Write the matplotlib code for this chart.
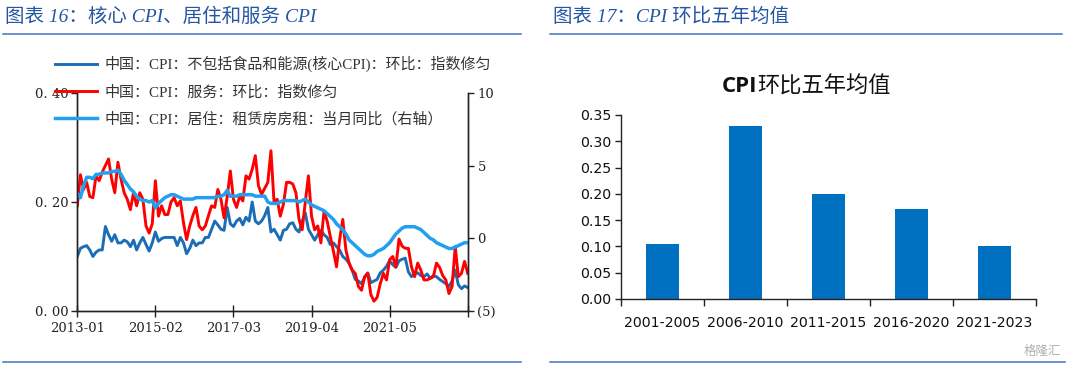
import matplotlib
matplotlib.use('Agg')
import matplotlib.pyplot as plt
import numpy as np
from matplotlib.lines import Line2D

plt.rcParams['font.family'] = ['Noto Sans CJK SC', 'DejaVu Sans']
plt.rcParams['axes.unicode_minus'] = False

# ---------------- data ----------------
# monthly, 2013-01 .. 2023-06
core_cpi_mom = [
    0.100, 0.115, 0.118, 0.120, 0.112, 0.100, 0.108, 0.112, 0.112, 0.155,
    0.140, 0.128, 0.140, 0.125, 0.125, 0.130, 0.127, 0.118, 0.130, 0.112,
    0.125, 0.135, 0.122, 0.110, 0.125, 0.145, 0.128, 0.133, 0.135, 0.135,
    0.135, 0.135, 0.120, 0.135, 0.125, 0.105, 0.115, 0.130, 0.120, 0.125,
    0.125, 0.135, 0.135, 0.150, 0.165, 0.158, 0.150, 0.148, 0.190, 0.160,
    0.155, 0.165, 0.170, 0.158, 0.172, 0.165, 0.200, 0.165, 0.160, 0.165,
    0.175, 0.190, 0.145, 0.150, 0.140, 0.130, 0.148, 0.150, 0.160, 0.162,
    0.150, 0.145, 0.165, 0.180, 0.150, 0.140, 0.130, 0.140, 0.148, 0.140,
    0.135, 0.122, 0.125, 0.118, 0.112, 0.100, 0.095, 0.088, 0.075, 0.058,
    0.055, 0.050, 0.062, 0.070, 0.052, 0.055, 0.058, 0.070, 0.075, 0.082,
    0.092, 0.085, 0.080, 0.092, 0.095, 0.097, 0.072, 0.063, 0.068, 0.070,
    0.065, 0.063, 0.068, 0.060, 0.065, 0.063, 0.058, 0.054, 0.050, 0.045,
    0.055, 0.075, 0.048, 0.041, 0.046, 0.043,
]
services_cpi_mom = [
    0.193, 0.250, 0.223, 0.236, 0.210, 0.208, 0.248, 0.239, 0.255, 0.267,
    0.279, 0.242, 0.217, 0.273, 0.242, 0.217, 0.205, 0.186, 0.217, 0.193,
    0.217, 0.205, 0.156, 0.143, 0.160, 0.239, 0.174, 0.193, 0.177, 0.177,
    0.200, 0.208, 0.193, 0.202, 0.162, 0.131, 0.156, 0.175, 0.190, 0.156,
    0.149, 0.156, 0.175, 0.193, 0.190, 0.223, 0.205, 0.171, 0.210, 0.257,
    0.205, 0.190, 0.211, 0.202, 0.248, 0.242, 0.260, 0.285, 0.230, 0.214,
    0.225, 0.236, 0.294, 0.199, 0.205, 0.174, 0.196, 0.236, 0.236, 0.233,
    0.217, 0.168, 0.149, 0.200, 0.248, 0.174, 0.149, 0.156, 0.125, 0.183,
    0.165, 0.137, 0.110, 0.081, 0.131, 0.168, 0.112, 0.088, 0.075, 0.069,
    0.045, 0.038, 0.063, 0.069, 0.030, 0.018, 0.025, 0.050, 0.069, 0.057,
    0.094, 0.100, 0.081, 0.132, 0.119, 0.115, 0.115, 0.081, 0.063, 0.088,
    0.075, 0.057, 0.057, 0.060, 0.063, 0.088, 0.080, 0.065, 0.057, 0.032,
    0.045, 0.118, 0.063, 0.069, 0.091, 0.069,
]
rent_yoy = [
    3.1, 2.8, 3.6, 4.2, 4.2, 4.1, 4.4, 4.4, 4.5, 4.5,
    4.5, 4.6, 4.6, 4.7, 4.4, 4.0, 3.7, 3.4, 3.2, 2.9,
    2.7, 2.6, 2.6, 2.5, 2.6, 2.1, 2.4, 2.6, 2.8, 2.9,
    3.0, 3.0, 2.9, 2.8, 2.7, 2.7, 2.7, 2.7, 2.8, 2.8,
    2.8, 2.8, 2.8, 2.8, 2.8, 2.9, 2.9, 3.0, 3.3, 2.9,
    2.9, 2.9, 3.0, 3.0, 3.0, 3.0, 3.0, 2.9, 2.9, 2.9,
    2.9, 2.5, 2.4, 2.4, 2.4, 2.5, 2.6, 2.6, 2.6, 2.6,
    2.6, 2.5, 2.6, 2.7, 2.5, 2.3, 2.2, 2.1, 2.0, 1.9,
    1.7, 1.5, 1.3, 1.0, 0.8, 0.6, 0.3, -0.1, -0.3, -0.5,
    -0.7, -0.9, -1.1, -1.2, -1.2, -1.1, -0.9, -0.8, -0.7, -0.5,
    -0.3, 0.0, 0.3, 0.5, 0.7, 0.8, 0.8, 0.8, 0.8, 0.7,
    0.6, 0.4, 0.2, 0.0, -0.1, -0.3, -0.4, -0.5, -0.6, -0.7,
    -0.7, -0.6, -0.5, -0.4, -0.3, -0.3,
]
x_tick_pos = [0, 25, 50, 75, 100, 125]
x_tick_labels = ['2013-01', '2015-02', '2017-03', '2019-04', '2021-05', '']
left_y_ticks = [0.0, 0.2, 0.4]
left_y_labels = ['0. 00', '0. 20', '0. 40']
right_y_ticks = [-5, 0, 5, 10]
right_y_labels = ['(5)', '0', '5', '10']
legend_labels = ['中国：CPI：不包括食品和能源(核心CPI)：环比：指数修匀',
                 '中国：CPI：服务：环比：指数修匀',
                 '中国：CPI：居住：租赁房房租：当月同比（右轴）']

periods = ['2001-2005', '2006-2010', '2011-2015', '2016-2020', '2021-2023']
avg5y = [0.105, 0.330, 0.200, 0.172, 0.100]

# ---------------- figure ----------------
W, H = 1080, 369
fig = plt.figure(figsize=(W / 100, H / 100), dpi=100)
fig.patch.set_facecolor('white')


def fx(px):
    return px / W


def fy(py):
    return 1 - py / H


serif = ['DejaVu Serif']
title_color = '#2456a4'
rule_color = '#4472c4'

# titles and rules
fig.text(fx(5), fy(17), '图表 16：核心 CPI、居住和服务 CPI', fontsize=14,
         family=['Liberation Serif', 'Noto Sans CJK SC'], style='italic',
         color=title_color, ha='left', va='center')
fig.text(fx(553), fy(17), '图表 17：CPI 环比五年均值', fontsize=14,
         family=['Liberation Serif', 'Noto Sans CJK SC'], style='italic',
         color=title_color, ha='left', va='center')
for x0, x1, yy in [(3, 521, 34), (550, 1062, 34), (3, 521, 362), (550, 1065, 362)]:
    fig.add_artist(Line2D([fx(x0), fx(x1)], [fy(yy), fy(yy)], color=rule_color, lw=1.1))
fig.text(fx(1042), fy(351), '格隆汇', fontsize=9, color='#b0b0b0', ha='center', va='center')

# ---------------- left chart ----------------
ax = fig.add_axes([fx(77.3), fy(311), fx(467.7) - fx(77.3), fy(93) - fy(311)])
x = np.arange(len(core_cpi_mom))
l1, = ax.plot(x, core_cpi_mom, color='#1b6db5', lw=2.1, solid_joinstyle='round')
l2, = ax.plot(x, services_cpi_mom, color='#ff0000', lw=2.1, solid_joinstyle='round')
ax2 = ax.twinx()
l3, = ax2.plot(x, rent_yoy, color='#20a0ee', lw=2.5, solid_joinstyle='round')

ax.set_xlim(0, 125)
ax.set_ylim(0, 0.4)
ax2.set_ylim(-5, 10)
ax.set_xticks(x_tick_pos)
ax.set_xticklabels(x_tick_labels, family=serif, fontsize=9.5)
ax.set_yticks(left_y_ticks)
ax.set_yticklabels(left_y_labels, family=serif, fontsize=9.5)
ax2.set_yticks(right_y_ticks)
ax2.set_yticklabels(right_y_labels, family=serif, fontsize=9.5)
ax2.get_yticklabels()[0].set_color('#ff0000')

for a in (ax, ax2):
    a.spines['top'].set_visible(False)
    for s in ('left', 'right', 'bottom'):
        a.spines[s].set_color('#222222')
        a.spines[s].set_linewidth(1.0)
ax.tick_params(axis='x', direction='inout', length=8, width=1, pad=4, colors='#222222')
ax.tick_params(axis='y', direction='out', length=4, width=1, pad=2, colors='#222222')
ax2.tick_params(axis='y', direction='out', length=4, width=1, pad=3, colors='#222222')
for lab in ax.get_xticklabels() + ax.get_yticklabels():
    lab.set_color('#222222')
for lab in ax2.get_yticklabels()[1:]:
    lab.set_color('#222222')

fig.legend([l1, l2, l3], legend_labels, loc='upper left',
           bbox_to_anchor=(fx(55), fy(56)), frameon=False,
           prop={'family': ['Liberation Serif', 'Noto Sans CJK SC'], 'size': 10.8},
           handlelength=2.8, handletextpad=0.5, labelspacing=0.85,
           borderaxespad=0, borderpad=0, labelcolor='#333333')

# ---------------- right chart ----------------
ax3 = fig.add_axes([fx(621), fy(299), fx(1036) - fx(621), fy(115) - fy(299)])
ax3.bar(np.arange(len(periods)), avg5y, width=0.4, color='#0070c0')
ax3.set_xlim(-0.5, len(periods) - 0.5)
ax3.set_ylim(0, 0.35)
yt = np.arange(0, 0.351, 0.05)
ax3.set_yticks(yt)
ax3.set_yticklabels([f'{v:.2f}' for v in yt], family=['DejaVu Sans'], fontsize=10.2)
ax3.set_xticks(np.arange(-0.5, len(periods), 1.0))
ax3.set_xticklabels([])
ax3.set_xticks(np.arange(len(periods)), minor=True)
ax3.set_xticklabels(periods, minor=True, family=['DejaVu Sans'], fontsize=10.2)
ax3.tick_params(axis='x', which='major', direction='out', length=5, width=1, colors='#222222')
ax3.tick_params(axis='x', which='minor', length=0, pad=12, labelcolor='#111111')
ax3.tick_params(axis='y', direction='out', length=4, width=1, pad=3, colors='#222222')
for lab in ax3.get_yticklabels():
    lab.set_color('#111111')
ax3.spines['top'].set_visible(False)
ax3.spines['right'].set_visible(False)
for s in ('left', 'bottom'):
    ax3.spines[s].set_color('#222222')
    ax3.spines[s].set_linewidth(1.0)

# chart title: bold "CPI" followed by regular Chinese text
fig.text(fx(757), fy(86), 'CPI', fontsize=16, fontweight='bold', color='#111111',
         family=['Open Sans', 'DejaVu Sans'], ha='right', va='center')
fig.text(fx(757), fy(86), '环比五年均值', fontsize=16, color='#111111',
         ha='left', va='center')

fig.savefig('out.png', dpi=100, facecolor='white')
